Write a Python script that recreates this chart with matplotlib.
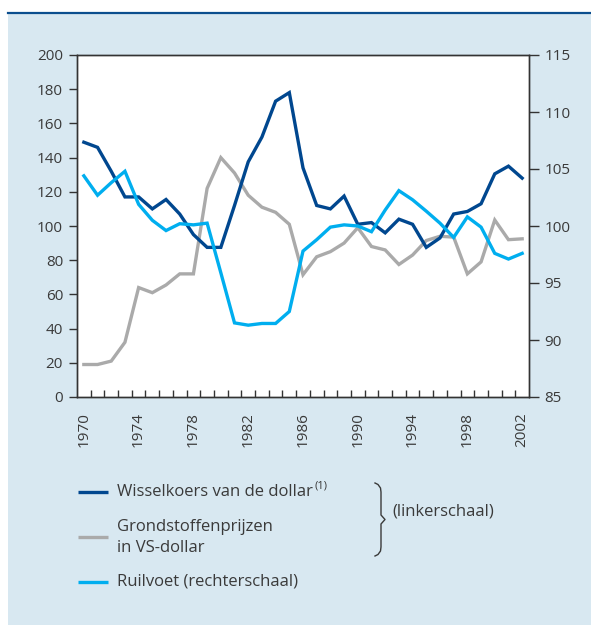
import matplotlib
matplotlib.use("Agg")
import matplotlib.pyplot as plt
from matplotlib.lines import Line2D
from matplotlib.patches import Rectangle

plt.rcParams['font.family'] = ['Open Sans', 'DejaVu Sans']

years = list(range(1970, 2003))
wisselkoers = [149, 146, 132, 117, 117, 110, 115.5, 107, 95, 87.5, 87.5, 112, 137.5, 152, 173, 178,
               134, 112, 110, 117.5, 101, 102, 96, 104, 101, 87.5, 93, 107, 108.5, 113, 130.5, 135, 128]
grondstoffen = [19, 19, 21, 32, 64, 61, 65.5, 72, 72, 122, 140, 131, 118, 111, 108, 101,
                71.5, 82, 85, 90, 99, 88, 86, 77.5, 83, 91.5, 94, 93.5, 72, 79, 103.5, 92, 92.5]
ruilvoet = [104.4, 102.7, 103.8, 104.8, 101.9, 100.5, 99.6, 100.2, 100.1, 100.25, 95.9, 91.5, 91.3,
            91.45, 91.45, 92.5, 97.8, 98.8, 99.9, 100.1, 100.0, 99.5, 101.4, 103.1, 102.3, 101.3,
            100.25, 99.0, 100.8, 99.9, 97.6, 97.1, 97.6]

left_ticks = list(range(0, 201, 20))
right_ticks = list(range(85, 116, 5))
xtick_years = list(range(1970, 2003, 4))

c_dark = '#00478F'
c_gray = '#AAAAAA'
c_cyan = '#00AEEF'
c_bg = '#D8E8F1'
c_text = '#3A3A3A'
c_axis = '#333333'

W, H = 591, 625
fig = plt.figure(figsize=(W / 100, H / 100), dpi=100)
fig.patch.set_facecolor('white')

def fx(px):
    return px / W

def fy(py):
    return 1 - py / H

# background panel and top rule
fig.add_artist(Rectangle((fx(8), 0), 1 - fx(8), fy(14), transform=fig.transFigure,
                         facecolor=c_bg, edgecolor='none', zorder=0))
fig.add_artist(Line2D([fx(8), 1], [fy(13), fy(13)], transform=fig.transFigure,
                      color='#0B4E8E', lw=1.6, zorder=1))

ax = fig.add_axes([fx(77), fy(397), fx(529) - fx(77), fy(55) - fy(397)])
ax.set_facecolor('white')
ax2 = ax.twinx()

lw = 2.4
ax.plot(years, grondstoffen, color=c_gray, lw=lw, zorder=2, solid_joinstyle='miter')
ax.plot(years, wisselkoers, color=c_dark, lw=lw, zorder=4, solid_joinstyle='miter')
ax2.plot(years, ruilvoet, color=c_cyan, lw=lw, zorder=3, solid_joinstyle='miter')

ax.set_xlim(1969.5, 2002.5)
ax.set_ylim(0, 200)
ax2.set_ylim(85, 115)
ax.set_yticks(left_ticks)
ax2.set_yticks(right_ticks)
ax.set_xticks(xtick_years)
ax.set_xticklabels([str(y) for y in xtick_years], rotation=90)
ax.set_xticks([y + 0.5 for y in years[:-1]], minor=True)

ax.tick_params(axis='x', which='major', length=0, pad=11, labelsize=11, labelcolor=c_text)
ax.tick_params(axis='x', which='minor', direction='in', length=5, width=1, color=c_axis)
ax.tick_params(axis='y', which='major', direction='out', length=6, width=1, pad=4,
               labelsize=11, labelcolor=c_text, color=c_axis)
ax2.tick_params(axis='y', which='major', direction='out', length=7, width=1, pad=4,
                labelsize=11, labelcolor=c_text, color=c_axis)
for a in (ax, ax2):
    for s in a.spines.values():
        s.set_color(c_axis)
        s.set_linewidth(1)

# legend (manual)
fs = 12
def handle(py, color):
    fig.add_artist(Line2D([fx(78), fx(108)], [fy(py), fy(py)], transform=fig.transFigure,
                          color=color, lw=2.4, solid_capstyle='butt'))

handle(492, c_dark)
t = fig.text(fx(117), fy(492), "Wisselkoers van de dollar", fontsize=fs, color=c_text,
             va='center', ha='left')
fig.canvas.draw()
bb = t.get_window_extent(renderer=fig.canvas.get_renderer())
fig.text(bb.x1 / W + fx(2), fy(486), "(1)", fontsize=8, color=c_text, va='center', ha='left')
handle(537, c_gray)
fig.text(fx(117), fy(527), "Grondstoffenprijzen", fontsize=fs, color=c_text, va='center', ha='left')
fig.text(fx(117), fy(548), "in VS-dollar", fontsize=fs, color=c_text, va='center', ha='left')
handle(582, c_cyan)
fig.text(fx(117), fy(582), "Ruilvoet (rechterschaal)", fontsize=fs, color=c_text, va='center', ha='left')
fig.text(fx(392), fy(511), "(linkerschaal)", fontsize=fs, color=c_text, va='center', ha='left')

# brace
bx = [375, 378, 380.5, 381, 381, 385, 381, 381, 380.5, 378, 375]
by = [483, 484.5, 488, 492, 515, 519.5, 524, 547, 551, 554.5, 556]
fig.add_artist(Line2D([fx(v) for v in bx], [fy(v) for v in by], transform=fig.transFigure,
                      color=c_text, lw=1.0))

fig.savefig('out.png', dpi=100, facecolor=fig.get_facecolor())
